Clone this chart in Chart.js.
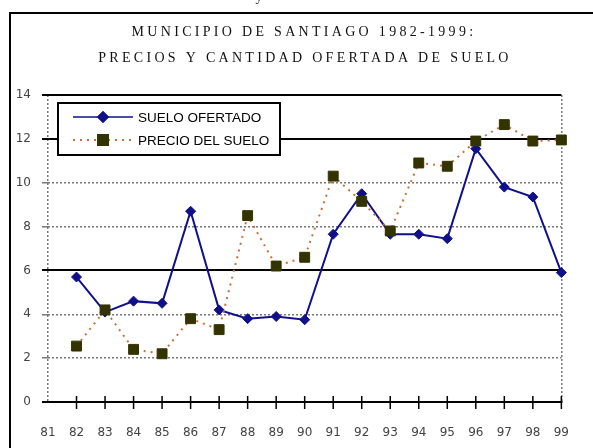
<!DOCTYPE html>
<html>
<head>
<meta charset="utf-8">
<script src="https://cdn.jsdelivr.net/npm/chart.js@4.4.1/dist/chart.umd.min.js"></script>
<style>
    html, body { margin: 0; padding: 0; background: #fff; }
    #wrap { width: 593px; height: 448px; position: relative; }
</style>
</head>
<body>
<div id="wrap"><canvas id="chartSuelo" width="593" height="448"></canvas></div>
<script>
const anios = ['81', '82', '83', '84', '85', '86', '87', '88', '89', '90', '91', '92', '93', '94', '95', '96', '97', '98', '99'];
const sueloOfertado = [null, 5.7, 4.1, 4.6, 4.5, 8.7, 4.2, 3.8, 3.9, 3.75, 7.65, 9.5, 7.65, 7.65, 7.45, 11.55, 9.8, 9.35, 5.9];
const precioSuelo = [null, 2.55, 4.2, 2.4, 2.2, 3.8, 3.3, 8.5, 6.2, 6.6, 10.3, 9.15, 7.8, 10.9, 10.75, 11.9, 12.65, 11.9, 11.95];
const ticksY = [0, 2, 4, 6, 8, 10, 12, 14];
const lineasFuertes = [0, 6, 12, 14];
const titulo = ['MUNICIPIO DE SANTIAGO 1982-1999:', 'PRECIOS Y CANTIDAD OFERTADA DE SUELO'];

const AZUL = '#10108a';
const NARANJA = '#c8703c';
const OLIVA = '#333300';

// marco, titulo y texto cortado de arriba
const marcoPlugin = {
    id: 'marco',
    beforeDraw(chart) {
        const ctx = chart.ctx;
        ctx.save();
        ctx.fillStyle = '#fff';
        ctx.fillRect(0, 0, chart.width, chart.height);
        ctx.strokeStyle = '#000';
        ctx.lineWidth = 2;
        ctx.beginPath();
        ctx.moveTo(10, 448);
        ctx.lineTo(10, 13);
        ctx.lineTo(593, 13);
        ctx.stroke();

        ctx.fillStyle = '#222';
        ctx.font = '14px "Liberation Serif"';
        ctx.textAlign = 'center';
        ctx.textBaseline = 'alphabetic';
        ctx.fillText('y', 259, 1);

        ctx.fillStyle = '#111';
        ctx.font = '14px "Liberation Serif"';
        ctx.textBaseline = 'middle';
        ctx.letterSpacing = '3.3px';
        ctx.fillText(titulo[0], 304, 32);
        ctx.fillText(titulo[1], 305, 58);
        ctx.restore();
    }
};

const cruzesPlugin = {
    id: 'cruces',
    afterDraw(chart) {
        const ctx = chart.ctx;
        const x = chart.scales.x;
        const y0 = chart.scales.y.getPixelForValue(0);
        ctx.save();
        ctx.strokeStyle = '#000';
        ctx.lineWidth = 1.5;
        ctx.beginPath();
        x.ticks.forEach((t, i) => {
            if (i === 0) return;
            const px = x.getPixelForTick(i);
            ctx.moveTo(px, y0 - 6);
            ctx.lineTo(px, y0 + 7);
        });
        ctx.stroke();
        ctx.restore();
    }
};

const leyendaPlugin = {
    id: 'leyendaInterna',
    afterDraw(chart) {
        const ctx = chart.ctx;
        const a = chart.chartArea;
        const bx = a.left + 10, by = a.top + 8, bw = 222, bh = 52;
        ctx.save();
        ctx.fillStyle = '#fff';
        ctx.fillRect(bx, by, bw, bh);
        ctx.strokeStyle = '#000';
        ctx.lineWidth = 2;
        ctx.strokeRect(bx, by, bw, bh);

        const filas = [by + 14, by + 37];
        chart.data.datasets.forEach((ds, i) => {
            const fy = filas[ds.filaLeyenda];
            ctx.strokeStyle = ds.borderColor;
            ctx.lineWidth = ds.filaLeyenda === 0 ? 1.5 : 2;
            ctx.setLineDash(ds.borderDash || []);
            ctx.beginPath();
            ctx.moveTo(bx + 15, fy);
            ctx.lineTo(bx + 75, fy);
            ctx.stroke();
            ctx.setLineDash([]);
            Chart.helpers.drawPoint(ctx, {
                pointStyle: ds.pointStyle,
                radius: ds.pointRadius,
                borderWidth: 1,
                rotation: 0
            }, bx + 45, fy);
            ctx.fillStyle = ds.pointBackgroundColor;
            ctx.strokeStyle = ds.pointBorderColor;
            ctx.fill();
            ctx.stroke();

            ctx.fillStyle = '#000';
            ctx.font = '13.5px "Liberation Sans"';
            ctx.textAlign = 'left';
            ctx.textBaseline = 'middle';
            ctx.fillText(ds.label, bx + 80, fy + 1);
        });
        ctx.restore();
    }
};

function crearGraficoSuelo(id) {
    new Chart(document.getElementById(id), {
        type: 'line',
        data: {
            labels: anios,
            datasets: [{
                label: 'PRECIO DEL SUELO',
                data: precioSuelo,
                filaLeyenda: 1,
                borderColor: NARANJA,
                borderWidth: 2,
                borderDash: [2, 5],
                pointStyle: 'rect',
                pointRadius: 7,
                pointBackgroundColor: OLIVA,
                pointBorderColor: OLIVA,
                pointBorderWidth: 1,
                tension: 0,
                fill: false
            }, {
                label: 'SUELO OFERTADO',
                data: sueloOfertado,
                filaLeyenda: 0,
                borderColor: AZUL,
                borderWidth: 2,
                pointStyle: 'rectRot',
                pointRadius: 5,
                pointBackgroundColor: AZUL,
                pointBorderColor: AZUL,
                pointBorderWidth: 1,
                tension: 0,
                fill: false
            }]
        },
        options: {
            responsive: false,
            animation: false,
            layout: { padding: { top: 95, right: 21, left: 0, bottom: 0 } },
            plugins: {
                legend: { display: false },
                title: { display: false },
                tooltip: { enabled: false }
            },
            scales: {
                x: {
                    offset: false,
                    afterFit: s => { s.height = 46; },
                    grid: {
                        drawTicks: false,
                        color: c => (c.index === 0 || c.index === anios.length - 1) ? '#777' : 'rgba(0,0,0,0)',
                        lineWidth: 1.5
                    },
                    border: { display: true, color: '#000', width: 2, dash: [2, 2] },
                    ticks: {
                        padding: 24,
                        autoSkip: false,
                        maxRotation: 0,
                        color: '#444',
                        font: { family: '"DejaVu Sans"', size: 12 }
                    }
                },
                y: {
                    min: 0,
                    max: 14,
                    afterFit: s => { s.width = 48; },
                    afterBuildTicks: s => { s.ticks = ticksY.map(v => ({ value: v })); },
                    grid: {
                        tickLength: 6,
                        color: c => lineasFuertes.includes(c.tick ? c.tick.value : -1) ? '#000' : '#777',
                        lineWidth: c => lineasFuertes.includes(c.tick ? c.tick.value : -1) ? 2 : 1.5
                    },
                    border: {
                        display: false,
                        dash: c => (c.tick && !lineasFuertes.includes(c.tick.value)) ? [2, 2] : []
                    },
                    ticks: {
                        padding: 11,
                        color: '#444',
                        font: { family: '"DejaVu Sans"', size: 12 }
                    }
                }
            }
        },
        plugins: [marcoPlugin, cruzesPlugin, leyendaPlugin]
    });
}

document.addEventListener('DOMContentLoaded', () => {
    crearGraficoSuelo('chartSuelo');
});
</script>
</body>
</html>
